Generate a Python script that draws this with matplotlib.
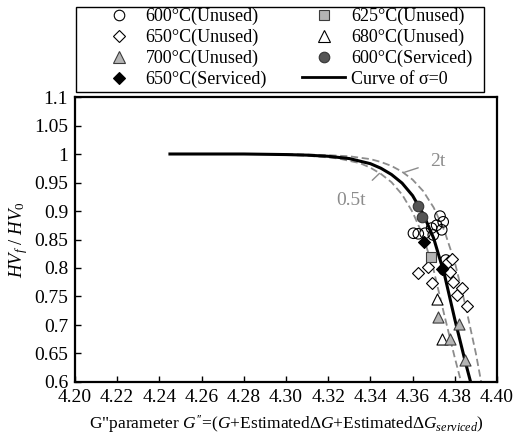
import matplotlib
matplotlib.use("Agg")
import matplotlib.pyplot as plt
from matplotlib.lines import Line2D
from matplotlib.patches import Rectangle

plt.rcParams['font.family'] = ['Liberation Serif', 'DejaVu Serif']
plt.rcParams['mathtext.fontset'] = 'custom'
plt.rcParams['mathtext.rm'] = 'Liberation Serif'
plt.rcParams['mathtext.it'] = 'Liberation Serif:italic'
plt.rcParams['mathtext.bf'] = 'Liberation Serif:bold'

# ---- measured hardness ratios vs. G'' parameter ----
u600_x = [4.3730, 4.3745, 4.3714, 4.3690, 4.3738, 4.3604, 4.3627, 4.3659, 4.3698, 4.3758, 4.3748]
u600_y = [0.891, 0.881, 0.875, 0.870, 0.867, 0.861, 0.860, 0.861, 0.858, 0.814, 0.797]

u625_x = [4.3685]
u625_y = [0.820]

u650_x = [4.3627, 4.3674, 4.3690, 4.3777, 4.3793, 4.3769, 4.3785, 4.3810, 4.3835, 4.3860]
u650_y = [0.791, 0.802, 0.773, 0.793, 0.776, 0.811, 0.815, 0.752, 0.765, 0.733]

u680_x = [4.3714, 4.3738]
u680_y = [0.746, 0.676]

u700_x = [4.3722, 4.3777, 4.3820, 4.3850]
u700_y = [0.714, 0.676, 0.701, 0.638]

s600_x = [4.3627, 4.3643]
s600_y = [0.908, 0.889]

s650_x = [4.3654, 4.3738]
s650_y = [0.845, 0.799]

# ---- master curve (sigma = 0) and 0.5t / 2t bands ----
curve_x = [4.245, 4.28, 4.30, 4.31, 4.32, 4.33, 4.34, 4.345, 4.35, 4.355,
           4.36, 4.365, 4.37, 4.375, 4.38, 4.385, 4.3875]
curve_y = [1.0, 1.0, 0.999, 0.998, 0.996, 0.992, 0.983, 0.975, 0.964, 0.949,
           0.927, 0.895, 0.852, 0.79, 0.71, 0.635, 0.60]

half_x = [4.30, 4.31, 4.32, 4.325, 4.33, 4.335, 4.34, 4.345, 4.35, 4.355,
          4.36, 4.365, 4.37, 4.375, 4.38, 4.383]
half_y = [0.9985, 0.997, 0.994, 0.992, 0.988, 0.984, 0.976, 0.965, 0.9505, 0.929,
          0.898, 0.856, 0.796, 0.718, 0.6425, 0.60]

double_x = [4.30, 4.32, 4.33, 4.34, 4.345, 4.35, 4.355, 4.36, 4.365, 4.37,
            4.375, 4.38, 4.385, 4.39, 4.3925]
double_y = [1.0, 0.998, 0.996, 0.991, 0.986, 0.979, 0.969, 0.955, 0.935, 0.906,
            0.866, 0.81, 0.735, 0.65, 0.60]

x_ticks = [4.20, 4.22, 4.24, 4.26, 4.28, 4.30, 4.32, 4.34, 4.36, 4.38, 4.40]
y_ticks = [0.6, 0.65, 0.7, 0.75, 0.8, 0.85, 0.9, 0.95, 1.0, 1.05, 1.1]
y_tick_labels = ['0.6', '0.65', '0.7', '0.75', '0.8', '0.85', '0.9', '0.95', '1', '1.05', '1.1']

W, H = 514, 443
fig = plt.figure(figsize=(W / 100, H / 100), dpi=100)
ax = fig.add_axes([75 / W, 61 / H, 422 / W, 285 / H])

gray_dash = '#8c8c8c'
ax.plot(half_x, half_y, color=gray_dash, lw=1.3, ls=(0, (4, 2)), zorder=2)
ax.plot(double_x, double_y, color=gray_dash, lw=1.3, ls=(0, (4, 2)), zorder=2)
ax.plot(curve_x, curve_y, color='black', lw=2.2, zorder=3)

ms = 7.6
ax.scatter(u600_x, u600_y, s=ms**2, marker='o', facecolor='none',
           edgecolor='black', linewidths=0.8, zorder=4)
ax.scatter(u650_x, u650_y, s=(ms * 0.8)**2, marker='D', facecolor='white',
           edgecolor='black', linewidths=0.8, zorder=4)
ax.scatter(u680_x, u680_y, s=(ms * 1.05)**2, marker='^', facecolor='white',
           edgecolor='black', linewidths=0.8, zorder=4)
ax.scatter(u700_x, u700_y, s=(ms * 1.05)**2, marker='^', facecolor='#b4b4b4',
           edgecolor='#3c3c3c', linewidths=0.8, zorder=4)
ax.scatter(u625_x, u625_y, s=ms**2, marker='s', facecolor='#b4b4b4',
           edgecolor='#3c3c3c', linewidths=0.8, zorder=4)
ax.scatter(s600_x, s600_y, s=ms**2, marker='o', facecolor='#555555',
           edgecolor='#333333', linewidths=0.8, zorder=5)
ax.scatter(s650_x, s650_y, s=(ms * 0.8)**2, marker='D', facecolor='black',
           edgecolor='black', linewidths=0.8, zorder=5)

# band labels with leader lines
label_gray = '#8c8c8c'
ax.annotate('0.5t', xy=(4.3443, 0.966), xytext=(4.331, 0.919),
            fontsize=14, color=label_gray, ha='center', va='center',
            arrowprops=dict(arrowstyle='-', color=label_gray, lw=1.0,
                            shrinkA=9, shrinkB=0))
ax.annotate('2t', xy=(4.3562, 0.968), xytext=(4.372, 0.987),
            fontsize=14, color=label_gray, ha='center', va='center',
            arrowprops=dict(arrowstyle='-', color=label_gray, lw=1.0,
                            shrinkA=7, shrinkB=0))

ax.set_xlim(4.20, 4.40)
ax.set_ylim(0.6, 1.1)
ax.set_xticks(x_ticks)
ax.set_xticklabels([f'{v:.2f}' for v in x_ticks])
ax.set_yticks(y_ticks)
ax.set_yticklabels(y_tick_labels)
ax.tick_params(direction='in', length=4, width=1, labelsize=14, pad=5)
for sp in ax.spines.values():
    sp.set_linewidth(1.6)

ax.set_ylabel(r'$HV_f$ / $HV_0$', fontsize=13.5, labelpad=3)
ax.set_xlabel(r'G"parameter $G^{\prime\prime}$=($G$+Estimated$\mathit{\Delta G}$+'
              r'Estimated$\mathit{\Delta G}_{serviced}$)', fontsize=12.5, labelpad=5)

handles = [
    Line2D([], [], ls='none', marker='o', ms=7.6, mfc='white', mec='black', mew=0.8),
    Line2D([], [], ls='none', marker='D', ms=6.2, mfc='white', mec='black', mew=0.8),
    Line2D([], [], ls='none', marker='^', ms=8, mfc='#b4b4b4', mec='#3c3c3c', mew=0.8),
    Line2D([], [], ls='none', marker='D', ms=6.2, mfc='black', mec='black', mew=0.8),
    Line2D([], [], ls='none', marker='s', ms=7.6, mfc='#b4b4b4', mec='#3c3c3c', mew=0.8),
    Line2D([], [], ls='none', marker='^', ms=8, mfc='white', mec='black', mew=0.8),
    Line2D([], [], ls='none', marker='o', ms=7.6, mfc='#555555', mec='#333333', mew=0.8),
    Line2D([], [], color='black', lw=2),
]
labels = ['600°C(Unused)', '650°C(Unused)', '700°C(Unused)', '650°C(Serviced)',
          '625°C(Unused)', '680°C(Unused)', '600°C(Serviced)', 'Curve of σ=0']
leg = fig.legend(handles, labels, loc='upper left',
                 bbox_to_anchor=(97 / W, 1 - 8 / H, (472 - 97) / W, 0), mode='expand',
                 ncol=2, fontsize=13, frameon=False, handlelength=2.4,
                 handletextpad=0.3, labelspacing=0.2, borderaxespad=0.0,
                 borderpad=0.0, columnspacing=1.0)

# legend frame
fig.patches.append(Rectangle((76 / W, 1 - 92 / H), (484 - 76) / W, 85 / H,
                             transform=fig.transFigure, fill=False,
                             edgecolor='black', lw=1.0))

fig.savefig('out.png', dpi=100)
